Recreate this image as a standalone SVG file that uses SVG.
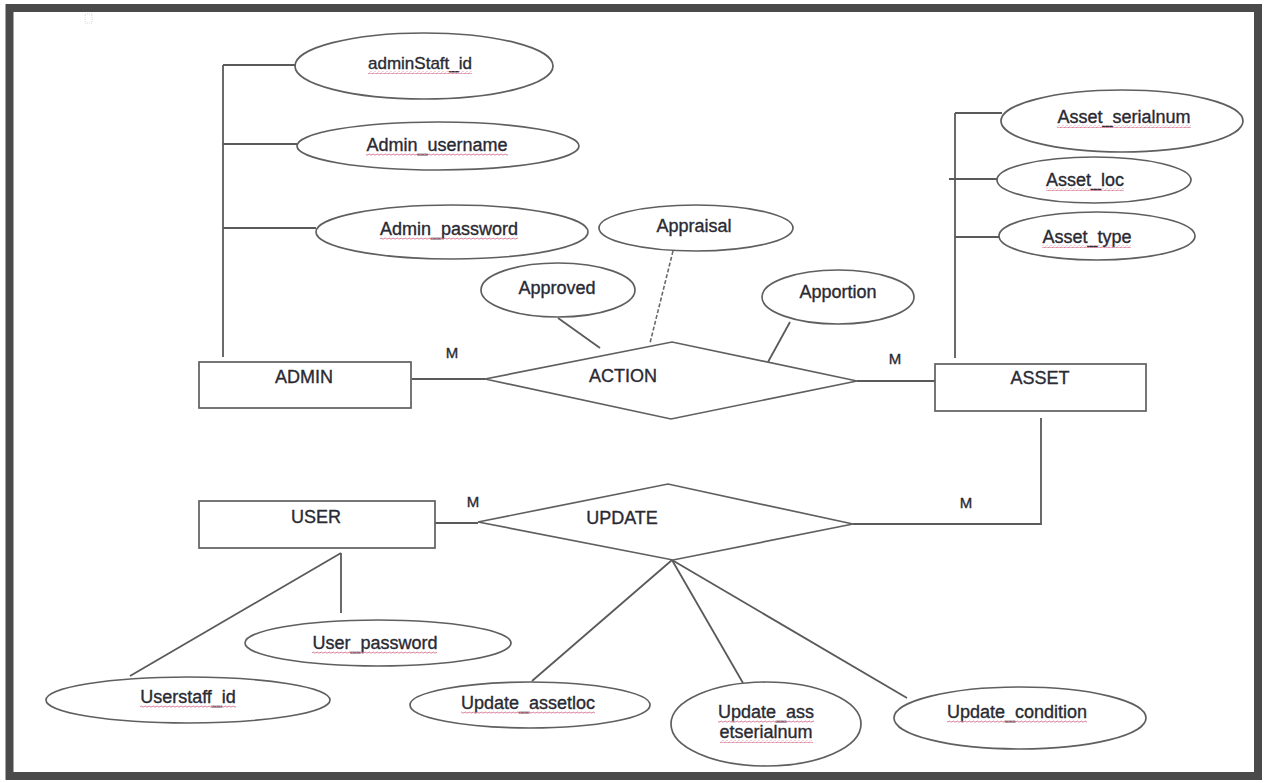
<svg xmlns="http://www.w3.org/2000/svg" width="1266" height="783" viewBox="0 0 1266 783">
<style>
.ln{stroke:#5a5a5a;stroke-width:1.8;fill:none}
.sh{stroke:#5f5f5f;stroke-width:1.7;fill:#fff}
.t{font-family:"Liberation Sans",Arial,sans-serif;font-size:18px;fill:#2a2a33;stroke:#2a2a33;stroke-width:0.35;text-anchor:middle}
.s{font-size:17px}
.m{font-size:15px}
.sq{fill:url(#squig)}
</style>
<defs>
<pattern id="squig" x="0" y="0" width="4" height="3" patternUnits="userSpaceOnUse">
<path d="M0 2 Q1 0 2 1.5 T4 1.5" stroke="#d9829c" stroke-width="1" fill="none"/>
</pattern>
</defs>
<rect x="0" y="0" width="1266" height="783" fill="#fff"/>
<rect x="9.5" y="8" width="1248.5" height="768" fill="none" stroke="#4a4a4a" stroke-width="8"/>
<rect x="85" y="14" width="7" height="9" fill="none" stroke="#d8d8d8" stroke-width="1" stroke-dasharray="1 1"/>

<g id="connectors">
<polyline class="ln" points="223,357 223,65"/>
<line class="ln" x1="223" y1="65" x2="295" y2="65"/>
<line class="ln" x1="223" y1="144" x2="297" y2="144"/>
<line class="ln" x1="223" y1="228" x2="316" y2="228"/>
<line class="ln" x1="412" y1="379" x2="485" y2="379"/>
<line class="ln" x1="857" y1="381" x2="935" y2="381"/>
<line class="ln" x1="558" y1="318" x2="600" y2="348"/>
<line x1="673" y1="251" x2="650" y2="343" stroke="#6a6a6a" stroke-width="1.6" stroke-dasharray="4 2"/>
<line class="ln" x1="790" y1="322" x2="768" y2="362"/>
<line class="ln" x1="955" y1="358" x2="955" y2="113"/>
<line class="ln" x1="955" y1="113" x2="1002" y2="113"/>
<line class="ln" x1="949" y1="179" x2="998" y2="179"/>
<line class="ln" x1="955" y1="237" x2="1000" y2="237"/>
<polyline class="ln" points="1041,418 1041,524 853,524"/>
<line class="ln" x1="435" y1="523" x2="478" y2="523"/>
<line class="ln" x1="341" y1="553" x2="341" y2="613"/>
<line class="ln" x1="341" y1="553" x2="130" y2="676"/>
<line class="ln" x1="672" y1="560" x2="532" y2="681"/>
<line class="ln" x1="672" y1="560" x2="743" y2="683"/>
<line class="ln" x1="672" y1="560" x2="907" y2="698"/>
<text class="t m" x="452" y="358">M</text>
<text class="t m" x="895" y="364">M</text>
<text class="t m" x="473" y="507">M</text>
<text class="t m" x="966" y="508">M</text>
</g>

<g id="admin">
<rect class="sh" x="199" y="362" width="212" height="46"/>
<text class="t" x="304" y="383">ADMIN</text>
</g>
<g id="adminStaft_id">
<ellipse class="sh" cx="424" cy="66" rx="129" ry="33"/>
<text class="t s" x="420" y="69">adminStaft_id</text>
<rect class="sq" x="368" y="71" width="104" height="3"/>
</g>
<g id="admin_username">
<ellipse class="sh" cx="438" cy="146" rx="141" ry="24"/>
<text class="t" x="437" y="151">Admin_username</text>
<rect class="sq" x="366" y="153" width="142" height="3"/>
</g>
<g id="admin_password">
<ellipse class="sh" cx="452" cy="232" rx="136" ry="27"/>
<text class="t" x="449" y="235">Admin_password</text>
<rect class="sq" x="380" y="237" width="138" height="3"/>
</g>

<g id="action">
<polygon class="sh" points="485,379 672,342 857,381 671,419"/>
<text class="t" x="623" y="382">ACTION</text>
</g>
<g id="approved">
<ellipse class="sh" cx="558" cy="290" rx="77" ry="27"/>
<text class="t" x="557" y="294">Approved</text>
</g>
<g id="appraisal">
<ellipse class="sh" cx="696" cy="228" rx="97" ry="23"/>
<text class="t" x="694" y="232">Appraisal</text>
</g>
<g id="apportion">
<ellipse class="sh" cx="838" cy="297" rx="76" ry="27"/>
<text class="t" x="838" y="298">Apportion</text>
</g>

<g id="asset">
<rect class="sh" x="935" y="364" width="211" height="47"/>
<text class="t" x="1040" y="384">ASSET</text>
</g>
<g id="asset_serialnum">
<ellipse class="sh" cx="1122" cy="121" rx="121" ry="31"/>
<text class="t" x="1124" y="123">Asset_serialnum</text>
<rect class="sq" x="1057" y="125" width="134" height="3"/>
</g>
<g id="asset_loc">
<ellipse class="sh" cx="1094" cy="180" rx="97" ry="23"/>
<text class="t" x="1085" y="186">Asset_loc</text>
<rect class="sq" x="1046" y="188" width="78" height="3"/>
</g>
<g id="asset_type">
<ellipse class="sh" cx="1097" cy="236" rx="98" ry="24"/>
<text class="t" x="1087" y="243">Asset_type</text>
<rect class="sq" x="1042" y="245" width="89" height="3"/>
</g>

<g id="user">
<rect class="sh" x="199" y="501" width="236" height="47"/>
<text class="t" x="316" y="523">USER</text>
</g>
<g id="user_password">
<ellipse class="sh" cx="378" cy="643" rx="133" ry="23"/>
<text class="t" x="375" y="649">User_password</text>
<rect class="sq" x="312" y="651" width="125" height="3"/>
</g>
<g id="userstaff_id">
<ellipse class="sh" cx="188" cy="700" rx="142" ry="23"/>
<text class="t" x="188" y="703">Userstaff_id</text>
<rect class="sq" x="140" y="705" width="96" height="3"/>
</g>

<g id="update">
<polygon class="sh" points="478,522 668,484 853,524 673,560"/>
<text class="t" x="622" y="524">UPDATE</text>
</g>
<g id="update_assetloc">
<ellipse class="sh" cx="530" cy="705" rx="120" ry="23"/>
<text class="t" x="528" y="709">Update_assetloc</text>
<rect class="sq" x="461" y="711" width="134" height="3"/>
</g>
<g id="update_assetserialnum">
<ellipse class="sh" cx="766" cy="724" rx="95" ry="42"/>
<text class="t" x="766" y="718">Update_ass</text>
<text class="t" x="766" y="738">etserialnum</text>
<rect class="sq" x="718" y="720" width="96" height="3"/>
<rect class="sq" x="720" y="740" width="93" height="3"/>
</g>
<g id="update_condition">
<ellipse class="sh" cx="1020" cy="718" rx="126" ry="31"/>
<text class="t" x="1017" y="718">Update_condition</text>
<rect class="sq" x="947" y="720" width="140" height="3"/>
</g>
</svg>
